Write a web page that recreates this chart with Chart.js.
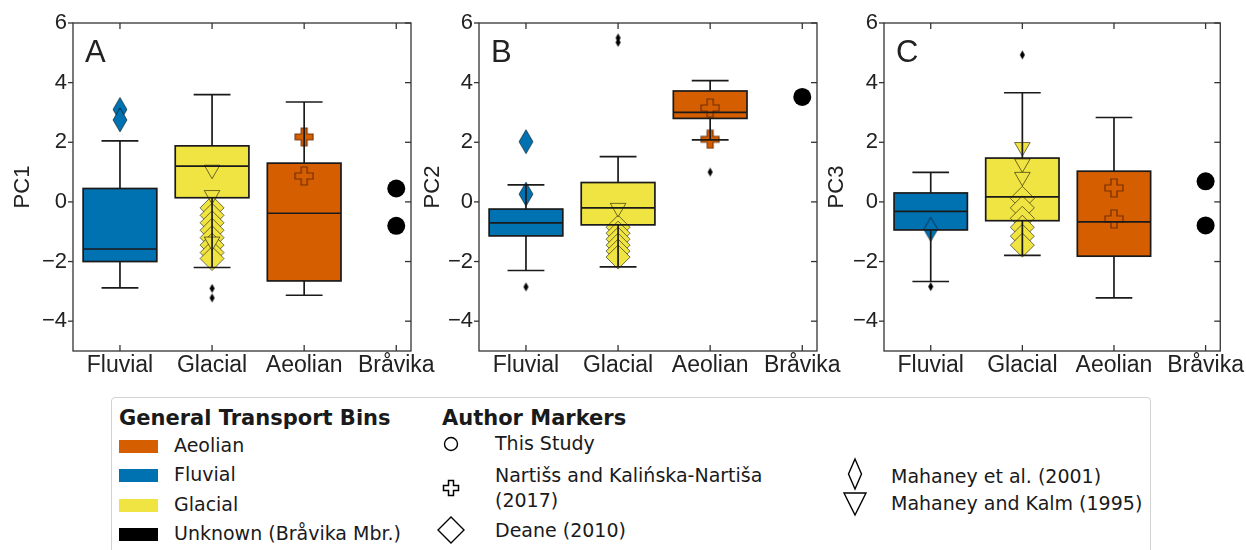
<!DOCTYPE html>
<html>
<head>
<meta charset="utf-8">
<script src="https://cdn.jsdelivr.net/npm/chart.js@4.4.1/dist/chart.umd.min.js"></script>
<style>
  body { margin: 0; background: #fff; overflow: hidden; }
  #wrap { position: relative; width: 1246px; height: 550px; overflow: hidden; }
  .panel { position: absolute; top: 0; }
  #legend { position: absolute; left: 111px; top: 397px; width: 1038px; height: 170px;
            border: 1px solid #d2d2d2; border-radius: 4px;
            font-family: "DejaVu Sans", sans-serif; font-size: 19px; color: #1a1a1a; }
  .lg { position: absolute; white-space: nowrap; line-height: 19px; }
  .ttl { font-weight: bold; font-size: 21px; line-height: 21px; }
  .patch { position: absolute; width: 39px; height: 13px; }
  .mk { position: absolute; }
</style>
</head>
<body>
<div id="wrap">
  <canvas id="pcA" class="panel" width="440" height="390" style="left:0px"></canvas>
  <canvas id="pcB" class="panel" width="440" height="390" style="left:406px"></canvas>
  <canvas id="pcC" class="panel" width="435" height="390" style="left:811px"></canvas>

  <div id="legend">
    <div class="lg ttl" style="left:7px;top:10px">General Transport Bins</div>
    <div class="patch" style="left:7px;top:42px;background:#D55E00"></div>
    <div class="lg" style="left:62px;top:38px">Aeolian</div>
    <div class="patch" style="left:7px;top:71px;background:#0072B2"></div>
    <div class="lg" style="left:62px;top:67px">Fluvial</div>
    <div class="patch" style="left:7px;top:101px;background:#F0E442"></div>
    <div class="lg" style="left:62px;top:97px">Glacial</div>
    <div class="patch" style="left:7px;top:130px;background:#000"></div>
    <div class="lg" style="left:62px;top:126px">Unknown (Bråvika Mbr.)</div>

    <div class="lg ttl" style="left:330px;top:10px">Author Markers</div>
    <svg class="mk" style="left:329px;top:36px" width="20" height="20"><circle cx="10" cy="10" r="6.5" fill="#fff" stroke="#000" stroke-width="1.4"/></svg>
    <div class="lg" style="left:383px;top:36px">This Study</div>
    <svg class="mk" style="left:329px;top:80px" width="20" height="20"><path d="M7.5 2.5 H12.5 V7.5 H17.5 V12.5 H12.5 V17.5 H7.5 V12.5 H2.5 V7.5 H7.5 Z" fill="#fff" stroke="#000" stroke-width="1.5"/></svg>
    <div class="lg" style="left:383px;top:68px">Nartišs and Kalińska-Nartiša</div>
    <div class="lg" style="left:383px;top:93px">(2017)</div>
    <svg class="mk" style="left:324px;top:117px" width="30" height="30"><path d="M15 2 L28 15 L15 28 L2 15 Z" fill="#fff" stroke="#000" stroke-width="1.4"/></svg>
    <div class="lg" style="left:383px;top:123px">Deane (2010)</div>

    <svg class="mk" style="left:733px;top:59px" width="20" height="34"><path d="M10 2 L16.5 17 L10 32 L3.5 17 Z" fill="#fff" stroke="#000" stroke-width="1.4"/></svg>
    <div class="lg" style="left:779px;top:69px">Mahaney et al. (2001)</div>
    <svg class="mk" style="left:730px;top:93px" width="26" height="26"><path d="M2 2 L24 2 L13 24 Z" fill="#fff" stroke="#000" stroke-width="1.4"/></svg>
    <div class="lg" style="left:779px;top:96px">Mahaney and Kalm (1995)</div>
  </div>
</div>

<script>
const categories = ["Fluvial", "Glacial", "Aeolian", "Bråvika"];
const yTickValues = [-4, -2, 0, 2, 4, 6];
const boxColors = ["#0072B2", "#F0E442", "#D55E00"];

// PC1 box statistics (Fluvial, Glacial, Aeolian)
const pc1WhiskerLow  = [-2.88, -2.20, -3.13];
const pc1Q1          = [-2.00,  0.14, -2.65];
const pc1Median      = [-1.58,  1.20, -0.38];
const pc1Q3          = [ 0.45,  1.88,  1.30];
const pc1WhiskerHigh = [ 2.05,  3.60,  3.35];
const pc1Outliers    = [[], [-2.90, -3.22], []];
const pc1Mahaney2001 = [3.10, 2.75];
const pc1Deane       = [-0.20, -0.45, -0.70, -0.95, -1.20, -1.45, -1.70, -1.90];
const pc1Kalm        = [1.08, 0.23, -1.33];
const pc1Nartiss     = [2.18, 0.87];
const pc1ThisStudy   = [0.45, -0.80];

// PC2
const pc2WhiskerLow  = [-2.30, -2.18, 2.08];
const pc2Q1          = [-1.14, -0.77, 2.80];
const pc2Median      = [-0.70, -0.20, 3.00];
const pc2Q3          = [-0.24,  0.65, 3.72];
const pc2WhiskerHigh = [ 0.57,  1.52, 4.07];
const pc2Outliers    = [[-2.85], [5.50, 5.35], [1.00]];
const pc2Mahaney2001 = [2.02, 0.26];
const pc2Deane       = [-0.85, -1.05, -1.25, -1.45, -1.65, -1.85];
const pc2Kalm        = [-0.20];
const pc2Nartiss     = [3.15, 2.10];
const pc2ThisStudy   = [3.52];

// PC3
const pc3WhiskerLow  = [-2.67, -1.79, -3.22];
const pc3Q1          = [-0.94, -0.63, -1.82];
const pc3Median      = [-0.32,  0.17, -0.67];
const pc3Q3          = [ 0.30,  1.47,  1.03];
const pc3WhiskerHigh = [ 0.99,  3.66,  2.83];
const pc3Outliers    = [[-2.84], [4.93], []];
const pc3Mahaney2001 = [-0.92];
const pc3Deane       = [0.12, -0.20, -0.55, -0.85, -1.15, -1.45];
const pc3Kalm        = [1.84, 1.29, 0.84];
const pc3Nartiss     = [0.47, -0.57];
const pc3ThisStudy   = [0.69, -0.79];

const edge = "rgba(0,0,0,0.55)";
const ink = "#1a1a1a";

function thinDiamond(fill, w, h, stroke) {
  const c = document.createElement("canvas");
  c.width = w + 2; c.height = h + 2;
  const g = c.getContext("2d");
  g.beginPath();
  g.moveTo(c.width / 2, 1); g.lineTo(w + 1, c.height / 2);
  g.lineTo(c.width / 2, h + 1); g.lineTo(1, c.height / 2);
  g.closePath();
  g.fillStyle = fill; g.fill();
  if (stroke) { g.strokeStyle = stroke; g.lineWidth = 1; g.stroke(); }
  return c;
}

function plusMarker(fill, size, arm, stroke) {
  const c = document.createElement("canvas");
  c.width = size + 2; c.height = size + 2;
  const g = c.getContext("2d");
  const a = 1 + (size - arm) / 2, b = a + arm, e = size + 1;
  g.beginPath();
  g.moveTo(a, 1); g.lineTo(b, 1); g.lineTo(b, a); g.lineTo(e, a); g.lineTo(e, b);
  g.lineTo(b, b); g.lineTo(b, e); g.lineTo(a, e); g.lineTo(a, b); g.lineTo(1, b);
  g.lineTo(1, a); g.lineTo(a, a); g.closePath();
  g.fillStyle = fill; g.fill();
  g.strokeStyle = stroke; g.lineWidth = 1.2; g.stroke();
  return c;
}

const blueDiamond = thinDiamond(boxColors[0], 14, 24, edge);
const smallDiamond = thinDiamond("#000", 5, 9);
const orangePlus = plusMarker(boxColors[2], 18, 6, "rgba(90,35,0,0.8)");

function pts(cat, vals) { return vals.map(v => ({ x: cat, y: v })); }

function boxPlugin(s, letter) {
  return {
    id: "boxes" + letter,
    beforeDatasetsDraw(chart) {
      const { ctx, scales: { x, y } } = chart;
      s.q1.forEach((q1, i) => {
        const l = x.getPixelForValue(i - 0.4), r = x.getPixelForValue(i + 0.4);
        const t = y.getPixelForValue(s.q3[i]), b = y.getPixelForValue(q1);
        ctx.fillStyle = boxColors[i];
        ctx.fillRect(l, t, r - l, b - t);
      });
    },
    afterDatasetsDraw(chart) {
      const { ctx, chartArea: ca, scales: { x, y } } = chart;
      ctx.save();
      ctx.strokeStyle = ink;
      ctx.lineWidth = 1.7;
      const line = (x1, y1, x2, y2) => { ctx.beginPath(); ctx.moveTo(x1, y1); ctx.lineTo(x2, y2); ctx.stroke(); };
      s.q1.forEach((q1, i) => {
        const l = x.getPixelForValue(i - 0.4), r = x.getPixelForValue(i + 0.4);
        const cl = x.getPixelForValue(i - 0.2), cr = x.getPixelForValue(i + 0.2);
        const cx = x.getPixelForValue(i);
        const t = y.getPixelForValue(s.q3[i]), b = y.getPixelForValue(q1);
        const lo = y.getPixelForValue(s.low[i]), hi = y.getPixelForValue(s.high[i]);
        const m = y.getPixelForValue(s.median[i]);
        line(cx, t, cx, hi); line(cl, hi, cr, hi);
        line(cx, b, cx, lo); line(cl, lo, cr, lo);
        ctx.strokeRect(l, t, r - l, b - t);
        line(l, m, r, m);
      });
      // frame and ticks
      ctx.strokeStyle = "#333";
      ctx.lineWidth = 1.3;
      ctx.strokeRect(ca.left, ca.top, ca.right - ca.left, ca.bottom - ca.top);
      y.ticks.forEach(tk => {
        const py = y.getPixelForValue(tk.value);
        line(ca.left - 5, py, ca.left, py);
        line(ca.right - 6, py, ca.right, py);
      });
      x.ticks.forEach(tk => {
        const px = x.getPixelForValue(tk.value);
        line(px, ca.bottom - 6, px, ca.bottom);
        line(px, ca.top, px, ca.top + 6);
      });
      ctx.fillStyle = "#222";
      ctx.font = "31px 'Liberation Sans', Arial, sans-serif";
      ctx.textBaseline = "alphabetic";
      ctx.fillText(letter, ca.left + 12, ca.top + 39);
      ctx.restore();
    }
  };
}

function makePanel(id, letter, title, titlePad, rightPad, s) {
  const datasets = [
    { data: pts(0, s.mahaney), pointStyle: blueDiamond, pointRadius: 6 },
    { data: pts(2, s.nartiss), pointStyle: orangePlus, pointRadius: 6 },
    { data: pts(1, s.kalm), pointStyle: "triangle", rotation: 180, pointRadius: 9,
      backgroundColor: boxColors[1], borderColor: edge, borderWidth: 1 },
    { data: pts(1, s.deane), pointStyle: "rectRot", pointRadius: 12,
      backgroundColor: boxColors[1], borderColor: edge, borderWidth: 1 },
    { data: s.outliers.flatMap((v, i) => pts(i, v)), pointStyle: smallDiamond, pointRadius: 4 },
    { data: pts(3, s.thisStudy), pointStyle: "circle", pointRadius: 9,
      backgroundColor: "#000", borderColor: "#000", borderWidth: 0 }
  ];
  const xFont = { family: "'Liberation Sans', Arial, sans-serif", size: 23 };
  const yFont = { family: "'Liberation Sans', Arial, sans-serif", size: 22 };
  return new Chart(document.getElementById(id), {
    type: "scatter",
    data: { datasets },
    options: {
      responsive: false,
      animation: false,
      events: [],
      layout: { padding: { top: 23, right: rightPad, left: 0, bottom: 0 } },
      plugins: { legend: { display: false }, tooltip: { enabled: false } },
      scales: {
        x: {
          type: "linear", min: -0.51, max: 3.16,
          grid: { display: false, drawTicks: false }, border: { display: false },
          afterBuildTicks: sc => { sc.ticks = categories.map((c, i) => ({ value: i })); },
          afterFit: sc => { sc.height = 39; },
          ticks: { padding: 1, color: "#222", font: xFont, autoSkip: false, maxRotation: 0,
                   callback: v => categories[v] }
        },
        y: {
          min: -5, max: 6,
          grid: { display: false, drawTicks: false }, border: { display: false },
          afterBuildTicks: sc => { sc.ticks = yTickValues.map(v => ({ value: v })); },
          afterFit: sc => { sc.width = 73; },
          ticks: { padding: 6, color: "#222", font: yFont,
                   callback: v => (v < 0 ? "\u2212" + Math.abs(v) : String(v)) },
          title: { display: true, text: title, color: "#222", font: yFont,
                   padding: { top: titlePad, bottom: 0 } }
        }
      }
    },
    plugins: [boxPlugin(s, letter)]
  });
}

makePanel("pcA", "A", "PC1", 10, 29, {
  low: pc1WhiskerLow, q1: pc1Q1, median: pc1Median, q3: pc1Q3, high: pc1WhiskerHigh,
  outliers: pc1Outliers, mahaney: pc1Mahaney2001, deane: pc1Deane, kalm: pc1Kalm,
  nartiss: pc1Nartiss, thisStudy: pc1ThisStudy
});
makePanel("pcB", "B", "PC2", 14, 29, {
  low: pc2WhiskerLow, q1: pc2Q1, median: pc2Median, q3: pc2Q3, high: pc2WhiskerHigh,
  outliers: pc2Outliers, mahaney: pc2Mahaney2001, deane: pc2Deane, kalm: pc2Kalm,
  nartiss: pc2Nartiss, thisStudy: pc2ThisStudy
});
makePanel("pcC", "C", "PC3", 13, 24, {
  low: pc3WhiskerLow, q1: pc3Q1, median: pc3Median, q3: pc3Q3, high: pc3WhiskerHigh,
  outliers: pc3Outliers, mahaney: pc3Mahaney2001, deane: pc3Deane, kalm: pc3Kalm,
  nartiss: pc3Nartiss, thisStudy: pc3ThisStudy
});
</script>
</body>
</html>
